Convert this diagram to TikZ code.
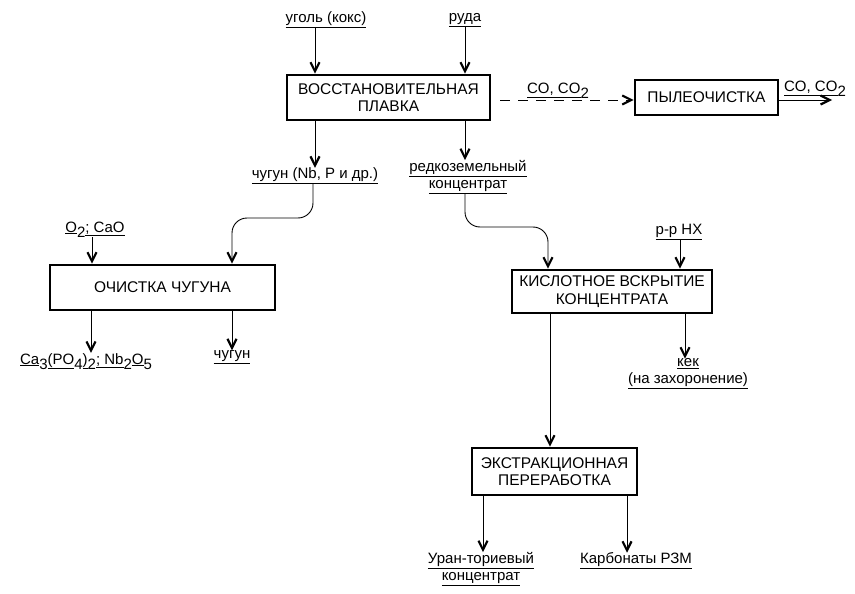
\documentclass[tikz,border=0pt]{standalone}
\usepackage{fontspec}
\setmainfont{Liberation Sans}
\usetikzlibrary{arrows.meta}
\newcommand{\lowsub}[1]{\raisebox{-5pt}{#1}}
\begin{document}
\begin{tikzpicture}[x=1pt,y=-1pt,
  every node/.style={font=\fontsize{15}{17}\selectfont, inner sep=0pt},
  box/.style={draw, line width=2.6pt, align=center, font=\fontsize{15.5}{17.5}\selectfont},
  lbl/.style={align=center},
  arr/.style={line width=0.9pt, -{Straight Barb[length=9pt,width=9pt,line width=2.2pt]}},
  darr/.style={arr, dash pattern=on 10pt off 8pt}]
\useasboundingbox (0,0) rectangle (855,594);
% boxes
\node[box, minimum width=203pt, minimum height=45pt] (plav) at (388.5,97.5) {ВОССТАНОВИТЕЛЬНАЯ\\ПЛАВКА};
\node[box, minimum width=143pt, minimum height=35pt] (pyl) at (706.5,97.5) {ПЫЛЕОЧИСТКА};
\node[box, minimum width=225pt, minimum height=45pt] (och) at (162.5,287.5) {ОЧИСТКА ЧУГУНА};
\node[box, minimum width=200pt, minimum height=43pt] (kisl) at (612,291.5) {КИСЛОТНОЕ ВСКРЫТИЕ\\КОНЦЕНТРАТА};
\node[box, minimum width=165pt, minimum height=47pt] (extr) at (554.5,471.5) {ЭКСТРАКЦИОННАЯ\\ПЕРЕРАБОТКА};
% labels
\node[lbl] (ugol) at (326,20) {\underline{уголь (кокс)}};
\node[lbl] (ruda) at (465,20) {\underline{руда}};
\node[lbl] (chug1) at (315,176) {\underline{чугун (Nb, P и др.)}};
\node[lbl] (redk) at (468,177) {\underline{редкоземельный}\\\underline{концентрат}};
\node[lbl, anchor=base] (o2) at (95,232) {\underline{O}\lowsub{2}\underline{; CaO}};
\node[lbl, anchor=base] (ca) at (86,364) {\underline{Ca}\lowsub{3}\underline{(PO}\lowsub{4}\underline{)}\lowsub{2}\underline{; Nb}\lowsub{2}\underline{O}\lowsub{5}};
\node[lbl] (chug2) at (232,357) {\underline{чугун}};
\node[lbl] (hx) at (679,232) {\underline{р-р HX}};
\node[lbl] (kek) at (688,374) {\underline{кек}\\\underline{(на захоронение)}};
\node[lbl] (uran) at (481,569) {\underline{Уран-ториевый}\\\underline{концентрат}};
\node[lbl] (karb) at (636,561) {\underline{Карбонаты РЗМ}};
\node[lbl, anchor=base] (co1) at (558,94) {\underline{CO, CO}\lowsub{2}};
\node[lbl, anchor=base] (co2) at (815,92) {\underline{CO, CO}\lowsub{2}};
% ports
\coordinate (p1) at (plav.north -| 315,0);
\coordinate (p2) at (plav.north -| 465,0);
\coordinate (p3) at (plav.south -| 315,0);
\coordinate (p4) at (plav.south -| 465,0);
\coordinate (p5) at (och.north -| 92,0);
\coordinate (p6) at (och.north -| 232,0);
\coordinate (p7) at (och.south -| 91,0);
\coordinate (p8) at (och.south -| 232,0);
\coordinate (p9) at (kisl.north -| 548,0);
\coordinate (p10) at (kisl.north -| 680,0);
\coordinate (p11) at (kisl.south -| 550,0);
\coordinate (p12) at (kisl.south -| 685,0);
\coordinate (p13) at (extr.north -| 550,0);
\coordinate (p14) at (extr.south -| 483,0);
\coordinate (p15) at (extr.south -| 627,0);
\coordinate (c1) at (313,218);
\coordinate (c2) at (465,227);
\coordinate (cend) at (832,100);
\coordinate (d1) at (500,100);
% connectors
\draw[arr] (ugol.south -| p1) -- (p1);
\draw[arr] (ruda.south -| p2) -- (p2);
\draw[arr] (p3) -- (p3 |- chug1.north);
\draw[arr] (p4) -- (p4 |- redk.north);
\draw[arr, rounded corners=15pt] (chug1.south -| c1) -- (c1) -- (c1 -| p6) -- (p6);
\draw[arr, rounded corners=15pt] (redk.south -| c2) -- (c2) -- (c2 -| p9) -- (p9);
\draw[arr] (o2.south -| p5) -- (p5);
\draw[arr] (p7) -- (p7 |- ca.north);
\draw[arr] (p8) -- (p8 |- chug2.north);
\draw[arr] (hx.south -| p10) -- (p10);
\draw[arr] (p12) -- (p12 |- kek.north);
\draw[arr] (p11) -- (p13);
\draw[arr] (p14) -- (p14 |- uran.north);
\draw[arr] (p15) -- (p15 |- karb.north);
\draw[darr] (d1) -- (d1 -| pyl.west);
\draw[arr] (pyl.east |- cend) -- (cend);
\end{tikzpicture}
\end{document}
